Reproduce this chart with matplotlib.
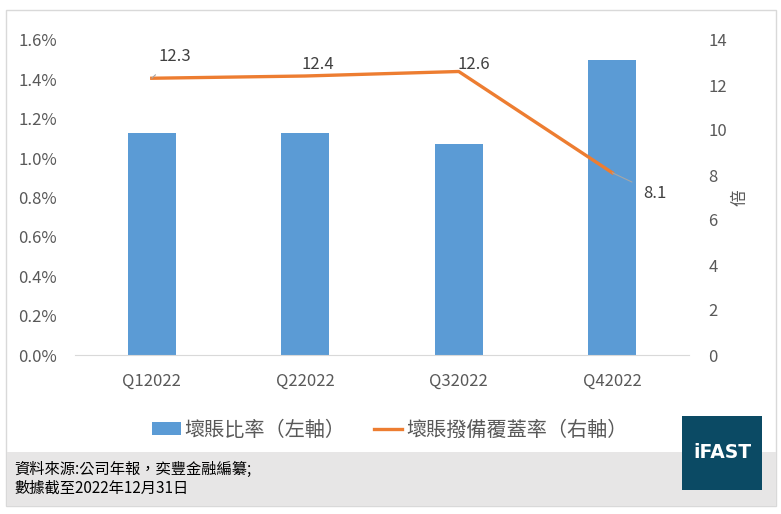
import matplotlib.pyplot as plt
from matplotlib.patches import Rectangle
from matplotlib.ticker import FuncFormatter

plt.rcParams['font.family'] = ['Noto Sans CJK TC', 'DejaVu Sans']

# data
quarters = ['Q12022', 'Q22022', 'Q32022', 'Q42022']
npl_ratio = [1.13, 1.13, 1.07, 1.50]        # 壞賬比率 (%)
coverage = [12.3, 12.4, 12.6, 8.1]          # 壞賬撥備覆蓋率 (倍)

bar_color = '#5B9BD5'
line_color = '#ED7D31'
text_color = '#595959'

W, H = 781, 514
fig = plt.figure(figsize=(W / 100, H / 100), dpi=100)


def px(x0, y0, x1, y1):
    # pixel box (top-left origin) -> figure fraction [left, bottom, w, h]
    return [x0 / W, 1 - y1 / H, (x1 - x0) / W, (y1 - y0) / H]


# outer frame and footer band
fig.patches.append(Rectangle((6 / W, 1 - 506 / H), 770 / W, 496 / H, transform=fig.transFigure,
                             facecolor='white', edgecolor='#D9D9D9', lw=1, zorder=-2))
fig.patches.append(Rectangle((7 / W, 1 - 506 / H), 769 / W, 54 / H, transform=fig.transFigure,
                             facecolor='#E7E6E6', edgecolor='none', zorder=-1))

ax = fig.add_axes(px(75, 40, 689, 355))
ax.set_facecolor('none')
x = list(range(len(quarters)))
bars = ax.bar(x, npl_ratio, width=0.31, color=bar_color, zorder=2, label='壞賬比率（左軸）')
ax.set_xlim(-0.5, len(quarters) - 0.5)
ax.set_ylim(0, 1.6)
ax.set_yticks([i * 0.2 for i in range(9)])
ax.yaxis.set_major_formatter(FuncFormatter(lambda v, p: f'{v:.1f}%'))
ax.set_xticks(x)
ax.set_xticklabels(quarters)
for s in ['top', 'right', 'left']:
    ax.spines[s].set_visible(False)
ax.spines['bottom'].set_color('#D9D9D9')
ax.tick_params(axis='both', length=0, labelsize=12, colors=text_color)
ax.tick_params(axis='y', pad=13)
ax.tick_params(axis='x', pad=13)

ax2 = ax.twinx()
line, = ax2.plot(x, coverage, color=line_color, lw=2.4, zorder=3, label='壞賬撥備覆蓋率（右軸）')
ax2.set_ylim(0, 14)
ax2.set_yticks(range(0, 15, 2))
for s in ['top', 'right', 'left', 'bottom']:
    ax2.spines[s].set_visible(False)
ax2.tick_params(axis='y', length=0, labelsize=12, colors=text_color, pad=14)
ax2.set_ylabel('倍', fontsize=12, color=text_color, rotation=90, labelpad=3)

# data labels
offsets = [(0.15, 0.95), (0.085, 0.5), (0.1, 0.3), (0.28, -0.9)]
for i, (v, (dx, dy)) in enumerate(zip(coverage, offsets)):
    ax2.annotate(f'{v}', xy=(i, v), xytext=(i + dx, v + dy), ha='center', va='center',
                 fontsize=12, color='#404040',
                 arrowprops=dict(arrowstyle='-', color='#A6A6A6', lw=0.8, shrinkA=7, shrinkB=0)
                 if i in (0, 3) else None)

# legend
leg = fig.legend(handles=[bars, line], loc='center', bbox_to_anchor=(390 / W, 1 - 430 / H),
                 ncol=2, frameon=False, fontsize=14.5, handlelength=1.4, handleheight=0.6,
                 columnspacing=1.4, handletextpad=0.2)
for t in leg.get_texts():
    t.set_color(text_color)

# footer notes
fig.text(14 / W, 1 - 469 / H, '資料來源:公司年報，奕豐金融編纂;', fontsize=11, color='black', va='center')
fig.text(14 / W, 1 - 488 / H, '數據截至2022年12月31日', fontsize=11, color='black', va='center')

# iFAST badge
fig.patches.append(Rectangle((682 / W, 1 - 490 / H), 80 / W, 74 / H, transform=fig.transFigure,
                             facecolor='#0B4A64', edgecolor='none', zorder=1))
fig.text(722 / W, 1 - 452 / H, 'iFAST', fontsize=13.5, fontweight='bold', color='white',
         ha='center', va='center', family=['DejaVu Sans'], zorder=2)

fig.savefig('out.png', dpi=100)
